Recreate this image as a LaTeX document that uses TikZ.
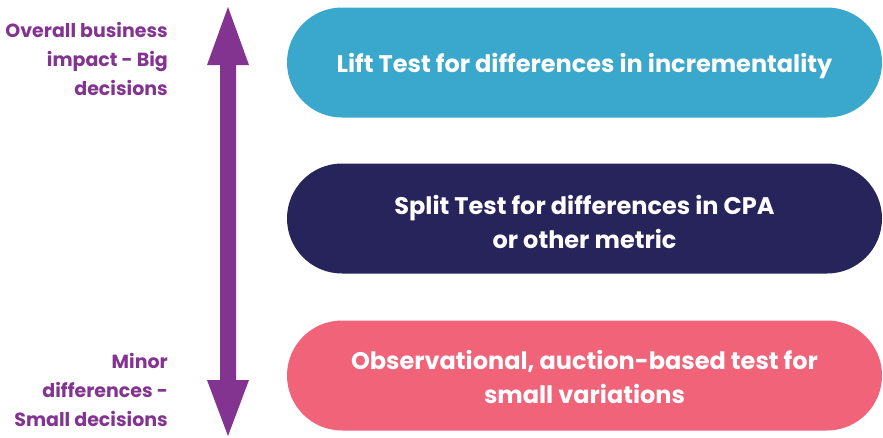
\documentclass[tikz,border=0pt]{standalone}
\usepackage{fontspec}
\setmainfont{Poppins}
\definecolor{cblue}{HTML}{3AA8CD}
\definecolor{cnavy}{HTML}{27245C}
\definecolor{cpink}{HTML}{F06379}
\definecolor{cpurple}{HTML}{833390}
\begin{document}
\begin{tikzpicture}[x=1pt,y=-1pt,
  pill/.style={rounded corners=55pt, minimum width=595pt, minimum height=110pt, inner sep=0pt},
  pilltext/.style={inner sep=0pt, text=white, font=\fontsize{24}{34}\selectfont\bfseries, align=center},
  lbl/.style={text=cpurple, font=\fontsize{19}{29}\selectfont\bfseries, align=right, anchor=east, inner sep=0pt}]
\useasboundingbox (0,0) rectangle (883,437);
\node[pill, fill=cblue] (lift) at (584.5,62.5) {};
\node[pill, fill=cnavy] (split) at (584.5,218.5) {};
\node[pill, fill=cpink] (obs) at (584.5,375.5) {};
\node[pilltext] (lifttxt) at ([yshift=-4pt]lift.center) {Lift Test for differences in incrementality};
\node[pilltext] (splittxt) at ([yshift=-3pt]split.center) {Split Test for differences in CPA\\or other metric};
\node[pilltext] (obstxt) at ([yshift=-1.5pt]obs.center) {Observational, auction-based test for\\small variations};
\coordinate (top) at (228,7);
\coordinate (bot) at (228,436);
\fill[cpurple] (top) -- (249,65) -- (236,65) -- (236,380) -- (249,380) -- (bot) -- (207,380) -- (220,380) -- (220,65) -- (207,65) -- cycle;
\node[lbl] (big) at (168,59) {Overall business\\impact - Big\\decisions};
\node[lbl] (small) at (168,390) {Minor\\differences -\\Small decisions};
\end{tikzpicture}
\end{document}
